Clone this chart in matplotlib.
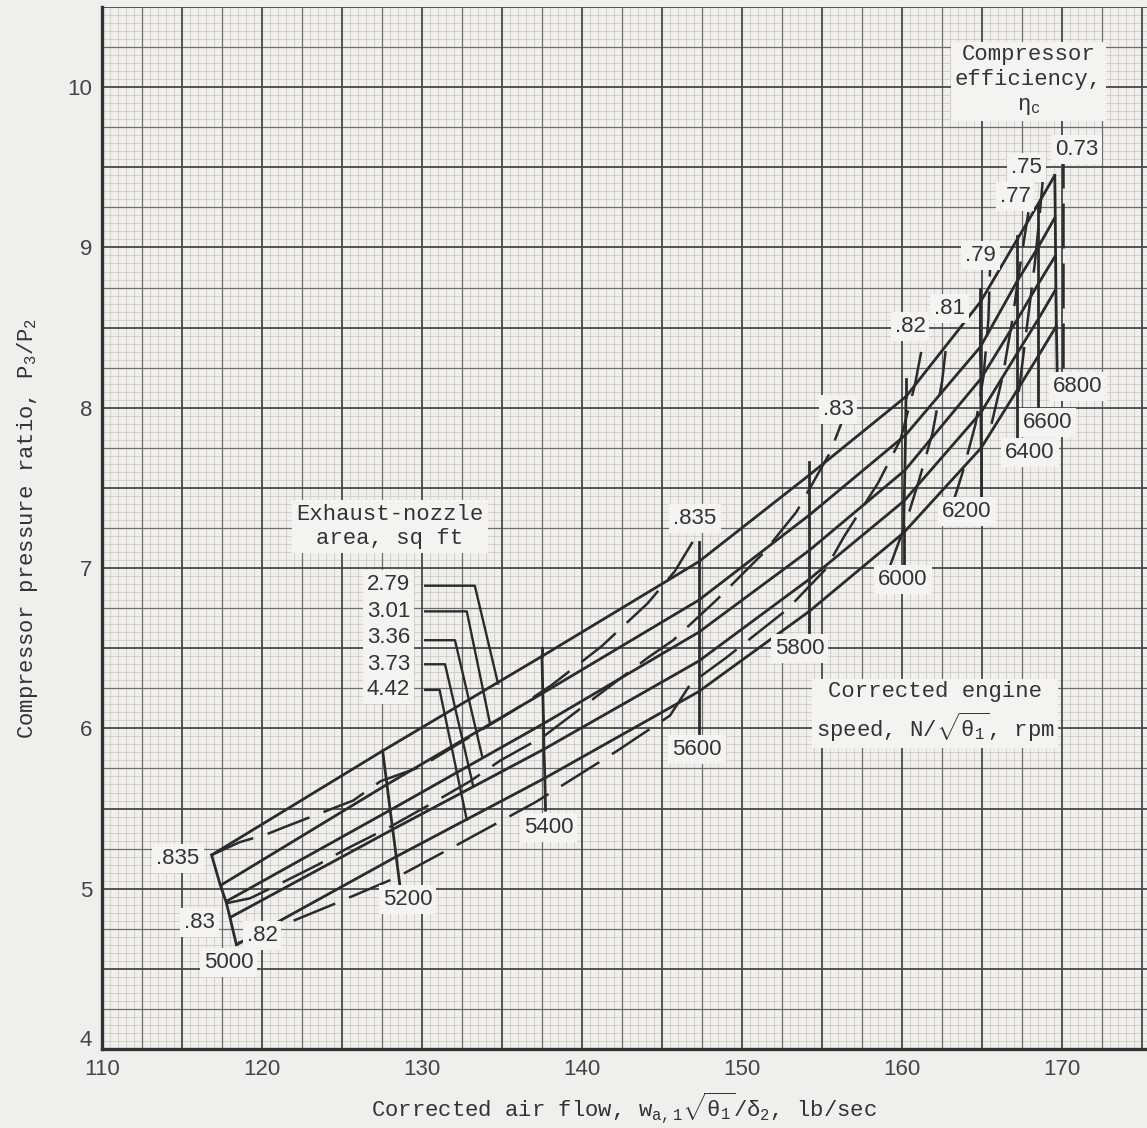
import numpy as np
import matplotlib.pyplot as plt

plt.rcParams['mathtext.fontset'] = 'custom'
plt.rcParams['mathtext.rm'] = 'Liberation Mono'
plt.rcParams['mathtext.it'] = 'Liberation Mono'
plt.rcParams['mathtext.bf'] = 'Liberation Mono'

PAPER = '#f1efeb'
INK = '#2b2b2b'
MONO = 'Liberation Mono'
SANS = 'Liberation Sans'

# corrected engine speed, rpm (one point per speed on every nozzle-area line)
speeds = [5000, 5200, 5400, 5600, 5800, 6000, 6200, 6400, 6600, 6800]
areas = ['2.79', '3.01', '3.36', '3.73', '4.42']

# corrected air flow (lb/sec) and pressure ratio for each exhaust-nozzle area
flow_279 = [116.85, 127.54, 137.50, 147.30, 154.20, 160.25, 164.90, 167.20, 168.50, 169.55]
pr_279 = [5.21, 5.86, 6.45, 7.04, 7.58, 8.07, 8.66, 9.05, 9.27, 9.45]
flow_301 = [117.40, 127.81, 137.55, 147.30, 154.20, 160.22, 164.90, 167.20, 168.50, 169.58]
pr_301 = [5.02, 5.65, 6.22, 6.80, 7.33, 7.83, 8.38, 8.79, 9.00, 9.19]
flow_336 = [117.75, 128.01, 137.60, 147.30, 154.20, 160.18, 164.92, 167.20, 168.50, 169.60]
pr_336 = [4.92, 5.49, 6.03, 6.60, 7.11, 7.61, 8.18, 8.55, 8.77, 8.95]
flow_373 = [118.00, 128.17, 137.62, 147.30, 154.20, 160.14, 164.93, 167.20, 168.50, 169.62]
pr_373 = [4.82, 5.37, 5.87, 6.42, 6.93, 7.42, 7.97, 8.34, 8.55, 8.74]
flow_442 = [118.40, 128.39, 137.68, 147.30, 154.20, 160.10, 164.95, 167.20, 168.50, 169.65]
pr_442 = [4.65, 5.20, 5.69, 6.23, 6.73, 7.22, 7.75, 8.11, 8.32, 8.51]

flows = [flow_279, flow_301, flow_336, flow_373, flow_442]
prs = [pr_279, pr_301, pr_336, pr_373, pr_442]

# compressor efficiency contours (dashed)
eff_835_x = [116.85, 118.6, 120.3, 121.3, 125.7, 127.4, 129.9, 135.7, 138.1, 141.2, 144.1, 145.8, 147.2]
eff_835_y = [5.21, 5.29, 5.34, 5.38, 5.55, 5.67, 5.76, 6.11, 6.27, 6.51, 6.78, 6.98, 7.21]
eff_83_x = [117.8, 119.25, 120.7, 123.5, 125.3, 127.9, 130.4, 133.0, 134.9, 137.6, 144.1, 145.7,
            148.4, 151.3, 153.4, 155.5, 156.2]
eff_83_y = [4.91, 4.94, 5.01, 5.15, 5.25, 5.38, 5.52, 5.67, 5.80, 5.95, 6.44, 6.55,
            6.80, 7.09, 7.35, 7.72, 7.90]
eff_82_x = [118.5, 120.5, 124.4, 128.4, 132.5, 137.1, 142.2, 145.5, 146.8, 149.0, 152.8, 155.2,
            156.4, 158.5, 159.9, 160.8, 161.3]
eff_82_y = [4.66, 4.74, 4.90, 5.07, 5.29, 5.54, 5.86, 6.08, 6.28, 6.44, 6.74, 6.99,
            7.20, 7.53, 7.80, 8.14, 8.40]
eff_81_x = [159.2, 160.2, 161.1, 161.9, 162.5, 162.8]
eff_81_y = [7.00, 7.27, 7.56, 7.84, 8.16, 8.42]
eff_79_x = [163.0, 163.8, 164.6, 165.1, 165.4, 165.5]
eff_79_y = [7.35, 7.60, 7.90, 8.20, 8.55, 8.86]
eff_77_x = [165.6, 166.3, 166.9, 167.4, 167.9]
eff_77_y = [7.90, 8.20, 8.55, 8.90, 9.22]
eff_75_x = [167.3, 167.8, 168.3, 168.6, 168.8]
eff_75_y = [8.10, 8.50, 8.90, 9.20, 9.42]
eff_73_x = [170.06, 170.06]
eff_73_y = [8.25, 9.55]

eff_lines = [(eff_835_x, eff_835_y), (eff_83_x, eff_83_y), (eff_82_x, eff_82_y),
             (eff_81_x, eff_81_y), (eff_79_x, eff_79_y), (eff_77_x, eff_77_y),
             (eff_75_x, eff_75_y), (eff_73_x, eff_73_y)]

fig = plt.figure(figsize=(11.47, 11.28), dpi=100, facecolor=PAPER)
ax = fig.add_axes([102 / 1147, 79 / 1128, 1 - 102 / 1147, 1042 / 1128])
ax.set_facecolor(PAPER)
x0, x1, y0, y1 = 110, 110 + 1045 / 16, 4, 10.5
ax.set_xlim(x0, x1)
ax.set_ylim(y0, y1)

# graph-paper grid: fine, medium, heavy
for xv in np.arange(x0, x1, 0.5):
    if abs(xv / 5 - round(xv / 5)) < 1e-6:
        c, lw, z = '#474747', 1.3, 1.2
    elif abs(xv / 2.5 - round(xv / 2.5)) < 1e-6:
        c, lw, z = '#6c6c6c', 0.9, 1.1
    else:
        c, lw, z = '#ccc8c2', 0.55, 1.0
    ax.axvline(xv, color=c, lw=lw, zorder=z)
for yv in np.arange(y0, y1 + 0.01, 0.05):
    yv = round(yv, 2)
    if abs(yv / 0.5 - round(yv / 0.5)) < 1e-6:
        c, lw, z = '#474747', 1.3, 1.2
    elif abs(yv / 0.25 - round(yv / 0.25)) < 1e-6:
        c, lw, z = '#6c6c6c', 0.9, 1.1
    else:
        c, lw, z = '#ccc8c2', 0.55, 1.0
    ax.axhline(yv, color=c, lw=lw, zorder=z)

# constant exhaust-nozzle-area lines
for fx, py in zip(flows, prs):
    ax.plot(fx, py, color=INK, lw=2.0, zorder=3, solid_capstyle='butt')

# constant speed lines (some run a little past the top line)
speed_top_ext = [None, None, 6.50, 7.16, 7.66, 8.18, 8.74, 9.07, None, None]
for i in range(len(speeds)):
    ax.plot([f[i] for f in flows], [p[i] for p in prs], color=INK, lw=2.0, zorder=3)
    if speed_top_ext[i] is not None:
        ax.plot([flow_279[i], flow_279[i]], [pr_279[i], speed_top_ext[i]], color=INK, lw=2.0,
                zorder=3)

# efficiency contours
for ex, ey in eff_lines:
    ax.plot(ex, ey, color=INK, lw=1.8, zorder=3, linestyle=(0, (18, 6)))

box = dict(boxstyle='square,pad=0.18', fc='#f5f3ef', ec='none')

# speed labels with leaders
speed_lab_xy = [(117.9, 4.54), (129.1, 4.93), (137.9, 5.38), (147.2, 5.87), (153.6, 6.50),
                (160.06, 6.93), (164.06, 7.35), (168.0, 7.72), (169.1, 7.91), (171.0, 8.13)]
speed_lead_end = [None, (128.63, 5.01), (137.72, 5.49), (147.3, 5.97), (154.2, 6.60),
                  (160.1, 7.00), (164.95, 7.45), (167.2, 7.82), (168.5, 8.01), (169.7, 8.22)]
for s, (lx, ly), le in zip(speeds, speed_lab_xy, speed_lead_end):
    if le is not None:
        i = speeds.index(s)
        ax.plot([flow_442[i], le[0]], [pr_442[i], le[1]], color=INK, lw=2.0, zorder=3)
    ax.text(lx, ly, str(s), fontsize=16, family=SANS, color='#333', ha='center', va='center',
            bbox=box, zorder=6)

# efficiency labels
eff_lab = [('.835', 114.75, 5.19), ('.83', 116.1, 4.79), ('.82', 120.0, 4.71),
           ('.835', 147.06, 7.31), ('.83', 156.0, 7.99), ('.82', 160.5, 8.51),
           ('.81', 163.0, 8.62), ('.79', 164.9, 8.95), ('.77', 167.06, 9.32),
           ('.75', 167.8, 9.50), ('0.73', 170.9, 9.61)]
for t, lx, ly in eff_lab:
    ax.text(lx, ly, t, fontsize=16, family=SANS, color='#333', ha='center', va='center',
            bbox=box, zorder=6)

ax.text(167.9, 10.04, 'Compressor\nefficiency,\n$\\eta_c$', fontsize=16, family=MONO,
        color='#333', ha='center', va='center', linespacing=1.25, bbox=box, zorder=6)

# exhaust-nozzle area key
ax.text(128.0, 7.26, 'Exhaust-nozzle\narea, sq ft', fontsize=16, family=MONO, color='#333',
        ha='center', va='center', linespacing=1.2, bbox=box, zorder=6)
area_lab_y = [6.90, 6.73, 6.57, 6.40, 6.24]
area_lead_x = [[130.2, 133.3, 134.75], [130.2, 132.8, 134.25], [130.2, 132.06, 133.75],
               [130.2, 131.44, 133.2], [130.2, 131.1, 132.8]]
area_lead_y = [[6.89, 6.89, 6.28], [6.73, 6.73, 6.03], [6.55, 6.55, 5.83],
               [6.40, 6.40, 5.64], [6.24, 6.24, 5.43]]
for a, ly, lxs, lys in zip(areas, area_lab_y, area_lead_x, area_lead_y):
    ax.text(127.9, ly, a, fontsize=16, family=SANS, color='#333', ha='center', va='center',
            bbox=box, zorder=6)
    ax.plot(lxs, lys, color=INK, lw=1.7, zorder=3)

ax.text(162.06, 6.10, 'Corrected engine\nspeed, $\\mathrm{N/\\sqrt{\\theta_1}}$, rpm', fontsize=16,
        family=MONO, color='#333', ha='center', va='center', linespacing=1.3,
        multialignment='center', bbox=box, zorder=6)

# axes styling
for side in ['top', 'right']:
    ax.spines[side].set_visible(False)
for side in ['left', 'bottom']:
    ax.spines[side].set_linewidth(2.4)
    ax.spines[side].set_color('#333')
yt = np.arange(4, 11, 1)
ax.set_xticks(np.arange(110, 171, 10))
ax.set_yticks(yt)
ax.set_yticklabels([''] + [str(v) for v in yt[1:]])
ax.tick_params(length=0, labelsize=16, colors='#444', pad=7)
for lab in ax.get_xticklabels() + ax.get_yticklabels():
    lab.set_family(SANS)
# the "4" sits a little above the corner, clear of "110"
ax.annotate('4', xy=(0, 4), xycoords=('axes fraction', 'data'), xytext=(-7, 6),
            textcoords='offset points', ha='right', va='center', fontsize=16, family=SANS,
            color='#444', annotation_clip=False)

ax.set_xlabel('Corrected air flow, $\\mathrm{w_{a,1}\\sqrt{\\theta_1}/\\delta_2}$, lb/sec',
              fontsize=16, family=MONO, color='#333', labelpad=8)
ax.set_ylabel('Compressor pressure ratio, $\\mathrm{P_3/P_2}$', fontsize=16, family=MONO,
              color='#333', labelpad=20)

fig.savefig('out.png', dpi=100, facecolor=PAPER)
